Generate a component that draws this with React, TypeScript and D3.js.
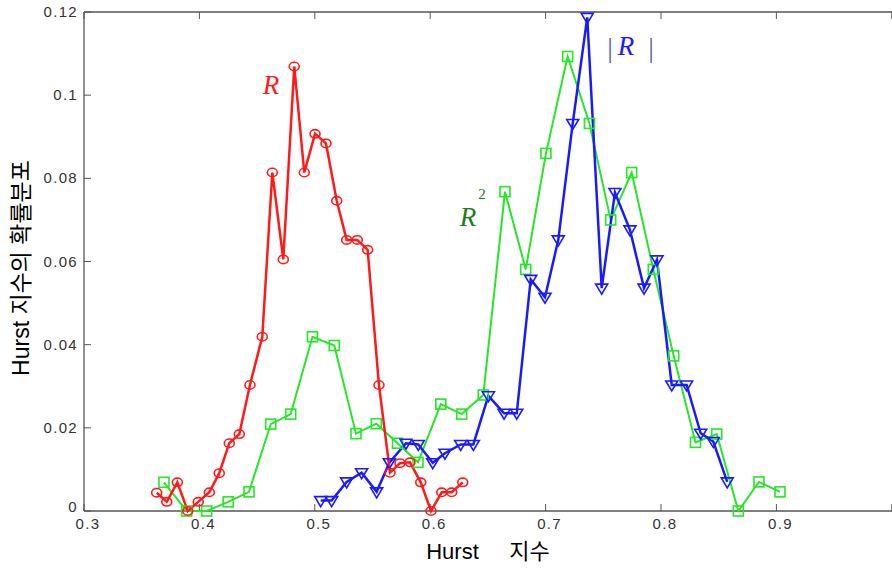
import React from "react";
import * as d3 from "d3";

const redX = [0.363, 0.3717, 0.3809, 0.3899, 0.399, 0.4086, 0.4172, 0.4259, 0.4346, 0.4438, 0.4545, 0.4632, 0.4727, 0.4822, 0.4909, 0.5002, 0.5097, 0.519, 0.5276, 0.5368, 0.5458, 0.5556, 0.5652, 0.5738, 0.5825, 0.5918, 0.6007, 0.61, 0.6186, 0.6282];
const redY = [0.0044, 0.0022, 0.0069, 0, 0.0022, 0.0045, 0.0091, 0.0163, 0.0185, 0.0303, 0.0419, 0.0814, 0.0605, 0.1069, 0.0814, 0.0907, 0.0884, 0.0746, 0.0652, 0.0652, 0.0628, 0.0303, 0.0092, 0.0115, 0.0117, 0.0069, 0, 0.0045, 0.0045, 0.0069];

const greenX = [0.3693, 0.389, 0.4063, 0.425, 0.443, 0.4618, 0.4791, 0.498, 0.5169, 0.5357, 0.5533, 0.5717, 0.5894, 0.6092, 0.6273, 0.646, 0.6648, 0.6828, 0.7003, 0.7191, 0.738, 0.7564, 0.7746, 0.7933, 0.811, 0.8299, 0.8483, 0.867, 0.8849, 0.9031];
const greenY = [0.0069, 0, 0, 0.0022, 0.0046, 0.0209, 0.0233, 0.0419, 0.0398, 0.0186, 0.021, 0.0163, 0.0117, 0.0257, 0.0233, 0.0279, 0.0768, 0.0581, 0.086, 0.1093, 0.0932, 0.07, 0.0814, 0.0581, 0.0373, 0.0165, 0.0185, 0, 0.007, 0.0046];

const blueX = [0.5051, 0.5146, 0.5276, 0.5406, 0.5536, 0.5646, 0.579, 0.5897, 0.6022, 0.6128, 0.6264, 0.6374, 0.6504, 0.664, 0.675, 0.6871, 0.6995, 0.711, 0.7235, 0.7361, 0.7486, 0.7601, 0.7731, 0.7853, 0.7965, 0.8093, 0.8222, 0.8344, 0.8453, 0.8574];
const blueY = [0.0025, 0.0025, 0.007, 0.0092, 0.0046, 0.0116, 0.0163, 0.016, 0.0116, 0.0139, 0.016, 0.016, 0.0277, 0.0235, 0.0235, 0.0557, 0.0514, 0.0652, 0.0932, 0.1187, 0.0536, 0.0766, 0.0676, 0.0536, 0.0604, 0.0303, 0.0303, 0.0187, 0.0167, 0.007];

const xTicks = [0.3, 0.4, 0.5, 0.6, 0.7, 0.8, 0.9, 1.0];
const xTickLabels = ["0.3", "0.4", "0.5", "0.6", "0.7", "0.8", "0.9", ""];
const yTicks = [0, 0.02, 0.04, 0.06, 0.08, 0.1, 0.12];
const yTickLabels = ["0", "0.02", "0.04", "0.06", "0.08", "0.1", "0.12"];

const W = 892, H = 568;
const L = 84, T = 12, B = 511, R = 891.8;

export default function App() {
  const x = d3.scaleLinear().domain([0.3, 1.0]).range([L, R]);
  const y = d3.scaleLinear().domain([0, 0.12]).range([B, T]);
  const line = d3.line<[number, number]>().x(d => x(d[0])).y(d => y(d[1]));
  const pts = (xs: number[], ys: number[]) => xs.map((v, i) => [v, ys[i]] as [number, number]);
  const red = pts(redX, redY), green = pts(greenX, greenY), blue = pts(blueX, blueY);
  const RED = "#ff1a1a", GREEN = "#26e626", BLUE = "#1a1aff";
  const tickFont = "'Liberation Sans', Arial, sans-serif";
  const serif = "'Liberation Serif', 'Times New Roman', serif";
  return (
    <svg width={W} height={H} style={{ position: "absolute", left: 0, top: 0, background: "#fff" }}>
      <rect x={0} y={0} width={W} height={H} fill="#fff" />
      {/* axes box */}
      <line x1={L} y1={B} x2={W} y2={B} stroke="#555" strokeWidth={1.3} />
      <line x1={L} y1={T} x2={W} y2={T} stroke="#555" strokeWidth={1.3} />
      <line x1={L} y1={T} x2={L} y2={B} stroke="#555" strokeWidth={1.3} />
      {xTicks.map((t, i) => (
        <g key={"xt" + i}>
          <line x1={x(t)} y1={B} x2={x(t)} y2={B - 7} stroke="#555" strokeWidth={1} />
          <line x1={x(t)} y1={T} x2={x(t)} y2={T + 7} stroke="#555" strokeWidth={1} />
          <text x={x(t) + 4} y={B + 18} fontFamily={tickFont} fontSize={15} letterSpacing={1.3} fill="#333" textAnchor="middle">{xTickLabels[i]}</text>
        </g>
      ))}
      {yTicks.map((t, i) => (
        <g key={"yt" + i}>
          <line x1={L} y1={y(t)} x2={L + 7} y2={y(t)} stroke="#555" strokeWidth={1} />
          <text x={L - 6} y={y(t) + (i === 0 ? 1 : 5)} fontFamily={tickFont} fontSize={15} letterSpacing={1.3} fill="#333" textAnchor="end">{yTickLabels[i]}</text>
        </g>
      ))}
      {/* series */}
      <path d={line(green) || ""} fill="none" stroke={GREEN} strokeWidth={2} />
      <path d={line(blue) || ""} fill="none" stroke={BLUE} strokeWidth={2.5} />
      <path d={line(red) || ""} fill="none" stroke={RED} strokeWidth={2.5} />
      {green.map((d, i) => (
        <rect key={"g" + i} x={x(d[0]) - 5} y={y(d[1]) - 5} width={10} height={10} fill="none" stroke={GREEN} strokeWidth={1.6} />
      ))}
      {blue.map((d, i) => {
        const cx = x(d[0]), cy = y(d[1]);
        return <path key={"b" + i} d={`M${cx - 6},${cy - 4}L${cx + 6},${cy - 4}L${cx},${cy + 6}Z`} fill="none" stroke={BLUE} strokeWidth={1.6} />;
      })}
      {red.map((d, i) => (
        <ellipse key={"r" + i} cx={x(d[0])} cy={y(d[1])} rx={5} ry={4.2} fill="none" stroke={RED} strokeWidth={1.6} />
      ))}
      {/* annotations */}
      <text x={271} y={94} fontFamily={serif} fontStyle="italic" fontSize={27} fill="#ff1a1a" textAnchor="middle">R</text>
      <rect x={455} y={182} width={36} height={48} fill="#fff" />
      <text x={468} y={226} fontFamily={serif} fontStyle="italic" fontSize={27} fill="#1e7a1e" textAnchor="middle">R</text>
      <text x={482} y={199} fontFamily={serif} fontSize={15} fill="#1e7a1e" textAnchor="middle">2</text>
      <rect x={604} y={28} width={54} height={36} fill="#fff" />
      <text x={626} y={55} fontFamily={serif} fontStyle="italic" fontSize={27} fill="#1a1aff" textAnchor="middle">R</text>
      <text x={610} y={57} fontFamily={serif} fontSize={28} fill="#5a5f9a" textAnchor="middle">|</text>
      <text x={651} y={57} fontFamily={serif} fontSize={28} fill="#5a5f9a" textAnchor="middle">|</text>
      {/* axis titles */}
      <text x={488} y={559} fontFamily="'Liberation Sans', 'Noto Sans CJK KR', sans-serif" fontSize={22} fill="#000" textAnchor="middle" style={{ whiteSpace: "pre" }}>
        {"Hurst     지수"}
      </text>
      <text transform="translate(29,268) rotate(-90)" fontFamily="'Liberation Sans', 'Noto Sans CJK KR', sans-serif" fontSize={23} fill="#000" textAnchor="middle">
        Hurst 지수의 확률분포
      </text>
    </svg>
  );
}
